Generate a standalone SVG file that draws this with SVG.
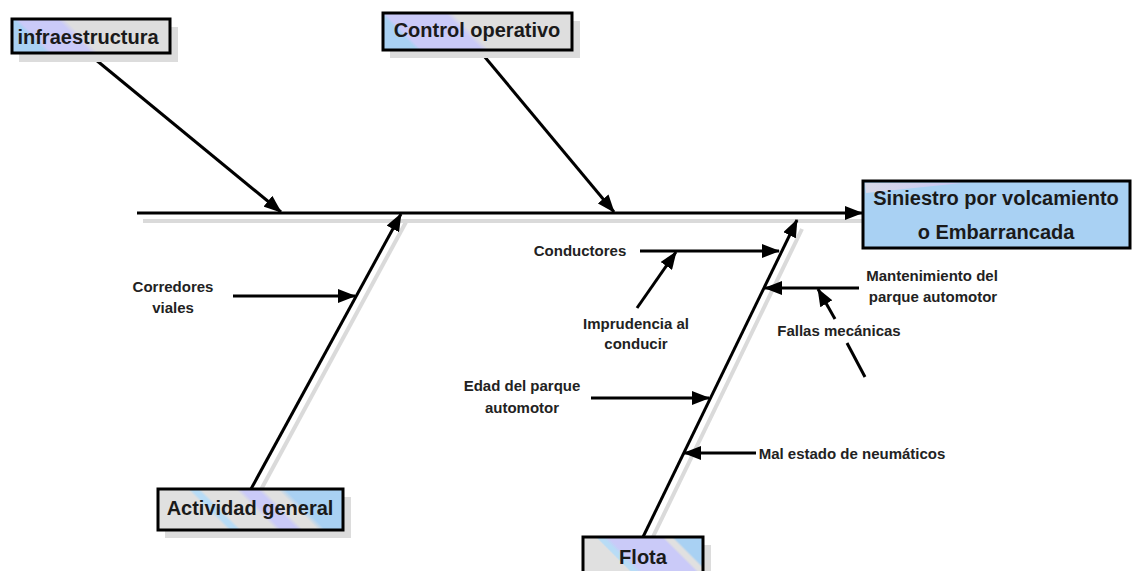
<svg xmlns="http://www.w3.org/2000/svg" width="1133" height="571" viewBox="0 0 1133 571">
<style>
  .ln{stroke:#000;stroke-width:3;fill:none}
  .sh{stroke:#dadada;stroke-width:4;fill:none}
  .box{stroke:#000;stroke-width:3}
  .bsh{fill:#dcdcdc}
  .ttl{font-family:"Liberation Sans",Arial,sans-serif;font-weight:bold;font-size:20px;fill:#1a1a1a;text-anchor:middle}
  .lbl{font-family:"Liberation Sans",Arial,sans-serif;font-weight:bold;font-size:15px;fill:#222;text-anchor:middle}
</style>
<defs>
  <marker id="ah" markerUnits="userSpaceOnUse" markerWidth="18" markerHeight="14" refX="17" refY="7" orient="auto">
    <path d="M0,0 L18,7 L0,14 Z" fill="#000"/>
  </marker>
  <linearGradient id="gInfra" gradientUnits="userSpaceOnUse" x1="12" y1="36" x2="62" y2="-14">
    <stop offset="0" stop-color="#a9d1f3"/><stop offset="0.18" stop-color="#a9d1f3"/>
    <stop offset="0.23" stop-color="#cacaf8"/><stop offset="0.62" stop-color="#cacaf8"/>
    <stop offset="0.7" stop-color="#dedede"/><stop offset="1" stop-color="#dedede"/>
  </linearGradient>
  <linearGradient id="gCtrl" gradientUnits="userSpaceOnUse" x1="383" y1="31" x2="433" y2="-19">
    <stop offset="0" stop-color="#a9d1f3"/><stop offset="0.15" stop-color="#a9d1f3"/>
    <stop offset="0.2" stop-color="#cacaf8"/><stop offset="0.8" stop-color="#cacaf8"/>
    <stop offset="0.88" stop-color="#dedede"/><stop offset="1" stop-color="#dedede"/>
  </linearGradient>
  <linearGradient id="gAct" gradientUnits="userSpaceOnUse" x1="158" y1="510" x2="258" y2="410">
    <stop offset="0" stop-color="#e0e0e0"/><stop offset="0.25" stop-color="#e0e0e0"/>
    <stop offset="0.27" stop-color="#b8dcf6"/><stop offset="0.3" stop-color="#b8dcf6"/>
    <stop offset="0.32" stop-color="#e0e0e0"/><stop offset="0.49" stop-color="#e0e0e0"/>
    <stop offset="0.52" stop-color="#cacaf8"/><stop offset="0.6" stop-color="#cacaf8"/>
    <stop offset="0.63" stop-color="#e0e0e0"/><stop offset="0.7" stop-color="#e0e0e0"/>
    <stop offset="0.74" stop-color="#a9d1f3"/><stop offset="1" stop-color="#a9d1f3"/>
  </linearGradient>
  <linearGradient id="gFlota" gradientUnits="userSpaceOnUse" x1="583" y1="555" x2="643" y2="495">
    <stop offset="0" stop-color="#e0e0e0"/><stop offset="0.25" stop-color="#e0e0e0"/>
    <stop offset="0.27" stop-color="#b8dcf6"/><stop offset="0.31" stop-color="#b8dcf6"/>
    <stop offset="0.36" stop-color="#cacaf8"/><stop offset="0.8" stop-color="#cacaf8"/>
    <stop offset="0.83" stop-color="#e0e0e0"/><stop offset="0.88" stop-color="#e0e0e0"/>
    <stop offset="0.91" stop-color="#a9d1f3"/><stop offset="1" stop-color="#a9d1f3"/>
  </linearGradient>
  <linearGradient id="gCorner" x1="0" y1="0" x2="1" y2="0">
    <stop offset="0" stop-color="#d8d8e8"/><stop offset="1" stop-color="#c8c8f4"/>
  </linearGradient>
</defs>
<rect width="1133" height="571" fill="#fff"/>

<g id="connectors">
  <!-- shadows -->
  <line class="sh" x1="143" y1="221" x2="866" y2="221"/>
  <line class="sh" x1="257" y1="497" x2="406" y2="222"/>
  <line class="sh" x1="649" y1="545" x2="802" y2="229"/>
  <!-- spine -->
  <line class="ln" x1="137" y1="213" x2="862" y2="213" marker-end="url(#ah)"/>
  <!-- main bones -->
  <line class="ln" x1="90" y1="55" x2="281" y2="212" marker-end="url(#ah)"/>
  <line class="ln" x1="479" y1="50" x2="614" y2="212" marker-end="url(#ah)"/>
  <line class="ln" x1="251" y1="489" x2="401" y2="214" marker-end="url(#ah)"/>
  <line class="ln" x1="643" y1="537" x2="797" y2="220" marker-end="url(#ah)"/>
  <!-- sub-causes -->
  <line class="ln" x1="233" y1="296" x2="355" y2="296" marker-end="url(#ah)"/>
  <line class="ln" x1="640" y1="251" x2="779" y2="251" marker-end="url(#ah)"/>
  <line class="ln" x1="637" y1="308" x2="676" y2="252" marker-end="url(#ah)"/>
  <line class="ln" x1="859" y1="288" x2="765" y2="288" marker-end="url(#ah)"/>
  <line class="ln" x1="865" y1="377" x2="847" y2="343"/>
  <line class="ln" x1="835" y1="319" x2="818" y2="289" marker-end="url(#ah)"/>
  <line class="ln" x1="591" y1="398" x2="709" y2="398" marker-end="url(#ah)"/>
  <line class="ln" x1="756" y1="453" x2="684" y2="453" marker-end="url(#ah)"/>
</g>

<g id="node-infraestructura">
  <rect class="bsh" x="19" y="27" width="159" height="35"/>
  <rect class="box" x="12" y="19" width="158" height="34" fill="url(#gInfra)"/>
  <text class="ttl" x="88" y="44">infraestructura</text>
</g>

<g id="node-control">
  <rect class="bsh" x="390" y="21" width="190" height="37"/>
  <rect class="box" x="383" y="13" width="189" height="37" fill="url(#gCtrl)"/>
  <text class="ttl" x="477" y="37">Control operativo</text>
</g>

<g id="node-siniestro">
  <rect class="box" x="863" y="181" width="267" height="67" fill="#a9d1f3"/>
  <polygon points="865,183 962,183 866,193" fill="url(#gCorner)"/>
  <text class="ttl" x="996" y="205">Siniestro por volcamiento</text>
  <text class="ttl" x="996" y="239">o Embarrancada</text>
</g>

<g id="node-actividad">
  <rect class="bsh" x="165" y="497" width="186" height="41"/>
  <rect class="box" x="158" y="489" width="185" height="41" fill="url(#gAct)"/>
  <text class="ttl" x="250" y="515">Actividad general</text>
</g>

<g id="node-flota">
  <rect class="bsh" x="590" y="545" width="121" height="40"/>
  <rect class="box" x="583" y="537" width="120" height="45" fill="url(#gFlota)"/>
  <text class="ttl" x="643" y="564">Flota</text>
</g>

<g id="node-corredores">
  <text class="lbl" x="173" y="292">Corredores</text>
  <text class="lbl" x="173" y="313">viales</text>
</g>
<g id="node-conductores">
  <text class="lbl" x="580" y="256">Conductores</text>
</g>
<g id="node-imprudencia">
  <text class="lbl" x="636" y="329">Imprudencia al</text>
  <text class="lbl" x="636" y="349">conducir</text>
</g>
<g id="node-mantenimiento">
  <text class="lbl" x="932" y="281">Mantenimiento del</text>
  <text class="lbl" x="933" y="302">parque automotor</text>
</g>
<g id="node-fallas">
  <text class="lbl" x="839" y="336">Fallas mecánicas</text>
</g>
<g id="node-edad">
  <text class="lbl" x="522" y="391">Edad del parque</text>
  <text class="lbl" x="522" y="413">automotor</text>
</g>
<g id="node-neumaticos">
  <text class="lbl" x="852" y="459">Mal estado de neumáticos</text>
</g>
</svg>
